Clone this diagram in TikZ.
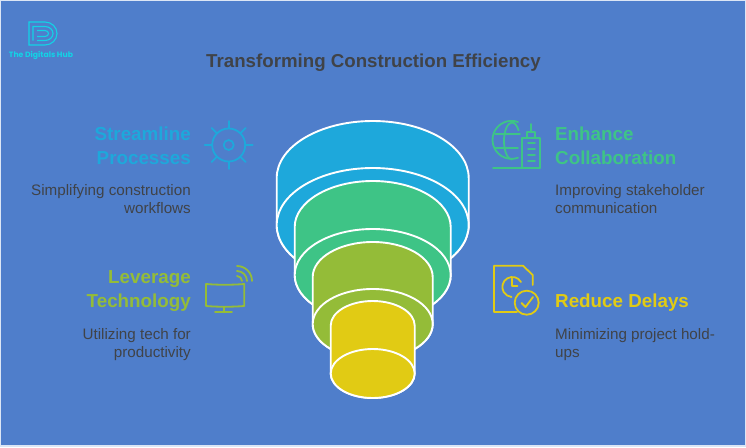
\documentclass[tikz,border=0pt]{standalone}
\usepackage{fontspec}
\setmainfont{Liberation Sans}
\newfontfamily\logofont{Poppins}
\definecolor{bgc}{HTML}{4F7ECB}
\definecolor{cedge}{HTML}{DCE6F5}
\definecolor{cblue}{HTML}{1EA8DB}
\definecolor{cgreen}{HTML}{3EC486}
\definecolor{colive}{HTML}{94BC38}
\definecolor{cyell}{HTML}{E1CB14}
\definecolor{ctext}{HTML}{404348}
\definecolor{clogo}{HTML}{12D3E6}
\newcommand{\tier}[6]{% cx rx ytop ybot ry colour
  \path[fill=#6,draw=white,line width=1.9pt,line join=round]
    (#1-#2,#3) arc[start angle=180,end angle=0,x radius=#2pt,y radius=#5pt]
    -- (#1+#2,#4) arc[start angle=0,end angle=-180,x radius=#2pt,y radius=#5pt] -- cycle;
  \draw[white,line width=1.9pt,fill=#6] (#1,#4) ellipse[x radius=#2pt,y radius=#5pt];}
\tikzset{
  heading/.style={font=\fontsize{18.8}{24}\selectfont\bfseries,inner sep=0pt},
  hright/.style={heading,align=right,anchor=east},
  hleft/.style={heading,align=left,anchor=west},
  descr/.style={font=\fontsize{15.2}{18}\selectfont,text=ctext,inner sep=0pt},
  dright/.style={descr,align=right,anchor=north east},
  dleft/.style={descr,align=left,anchor=north west},
  ic/.style={line width=1.8pt,line cap=round,line join=round}
}
\begin{document}
\begin{tikzpicture}[x=1pt,y=-1pt]
\useasboundingbox (0,0) rectangle (746,447);
\fill[cedge] (0,0) rectangle (746,447);
\fill[bgc] (1,1) rectangle (745,445);
% logo
\begin{scope}[clogo,line width=1.1pt]
\draw (29,45) -- (29,22) -- (45,22) arc[start angle=90,end angle=-90,x radius=12pt,y radius=11.5pt] -- cycle;
\draw (33,40.5) -- (33,26.5) -- (45,26.5) arc[start angle=90,end angle=-90,x radius=8pt,y radius=7pt] -- (37,40.5);
\draw (37,30.5) -- (45,30.5) arc[start angle=90,end angle=-90,x radius=3.5pt,y radius=3pt] -- (37,36.5);
\end{scope}
\node[text=clogo,font=\logofont\fontsize{7.7}{9}\selectfont\bfseries,inner sep=0pt] (logo) at (41,55) {The Digitals Hub};
% title
\node[font=\fontsize{18.7}{24}\selectfont\bfseries,text=ctext,inner sep=0pt] (title) at (373.5,62.5) {Transforming Construction Efficiency};
% funnel
\tier{372.7}{96}{178}{225}{57}{cblue}
\tier{372.7}{78}{227}{275}{46}{cgreen}
\tier{372.7}{60}{277}{324}{35}{colive}
\tier{372.7}{42}{325.5}{373.5}{24.5}{cyell}
% left texts
\node[hright,text=cblue] (t1) at (191,145.5) {Streamline\\Processes};
\node[dright] (d1) at (191,184.5) {Simplifying construction\\workflows};
\node[hright,text=colive] (t2) at (191,291.5) {Leverage\\Technology};
\node[dright] (d2) at (191,328.5) {Utilizing tech for\\productivity};
% right texts
\node[hleft,text=cgreen] (t3) at (555,145.5) {Enhance\\Collaboration};
\node[dleft] (d3) at (555,184.5) {Improving stakeholder\\communication};
\node[hleft,text=cyell] (t4) at (555,303) {Reduce Delays};
\node[dleft] (d4) at (555,328.5) {Minimizing project hold-\\ups};
% gear icon
\begin{scope}[cblue,ic]
\draw (228.7,145) circle[radius=16.5pt];
\draw (228.7,145) circle[radius=5pt];
\foreach \a in {0,45,...,315}{
  \draw (228.7,145) ++(\a:16.5) -- ++(\a:7.5);}
\end{scope}
% globe icon
\begin{scope}[cgreen,ic]
\draw (518,122) arc[start angle=70,end angle=290,radius=19pt];
\draw (512,122.5) arc[start angle=90,end angle=270,x radius=8pt,y radius=18.5pt];
\draw (512,122.5) arc[start angle=90,end angle=35,x radius=8pt,y radius=18.5pt];
\draw (495,134) -- (520,134);
\draw (495,148) -- (518,148);
\draw (493,168) -- (540,168);
\draw (521.7,168) -- (521.7,138) -- (540,138) -- (540,168);
\draw (527,138) -- (527,132) -- (535,132) -- (535,138);
\draw (531,132) -- (531,124);
\foreach \y in {143,149,155,161}{\draw (528,\y) -- (535,\y);}
\end{scope}
% monitor icon
\begin{scope}[colive,ic]
\draw (206,284) .. controls (218,285) and (232,285) .. (244.3,284) -- (244.3,306) .. controls (232,307) and (218,307) .. (206,306) -- cycle;
\draw (224.3,307) -- (224.3,312);
\draw (215,312) -- (232,312);
\draw (237,266) arc[start angle=90,end angle=0,radius=15pt];
\draw (237,271) arc[start angle=90,end angle=0,radius=10pt];
\draw (237,276) arc[start angle=90,end angle=0,radius=5pt];
\end{scope}
% document icon
\begin{scope}[cyell,ic]
\draw (517,312) -- (494,312) -- (494,265.7) -- (523,265.7) -- (532.7,275) -- (532.7,285);
\draw (521,282) arc[start angle=30,end angle=265,radius=10pt];
\draw (511.7,278.5) -- (511.7,286) -- (517.5,286);
\draw (526.7,302.7) circle[radius=12pt];
\draw (521.5,303) -- (525.5,307) -- (533,297);
\end{scope}
\end{tikzpicture}
\end{document}
